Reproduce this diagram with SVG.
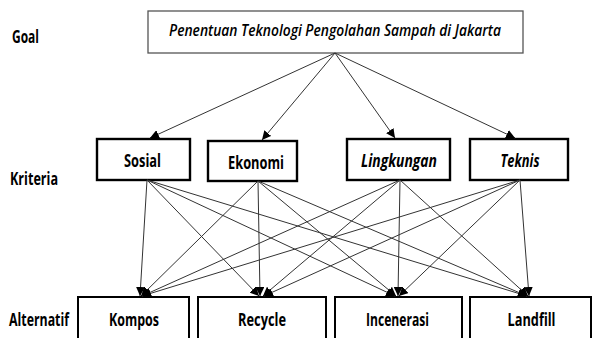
<svg xmlns="http://www.w3.org/2000/svg" width="592" height="338" viewBox="0 0 592 338">
<style>
  .lbl{font-family:"Open Sans","Liberation Sans",sans-serif;font-weight:700;font-size:17px;fill:#000}
  .ttl{font-family:"Open Sans","Liberation Sans",sans-serif;font-weight:600;font-style:italic;font-size:16.5px;fill:#000}
  .nt{font-family:"Open Sans","Liberation Sans",sans-serif;font-weight:700;font-size:17px;fill:#000;text-anchor:middle}
  .it{font-style:italic}
  .goalbox{fill:#fff;stroke:#555;stroke-width:1.3}
  .kbox{fill:#fff;stroke:#000;stroke-width:2.4}
  .abox{fill:#fff;stroke:#000;stroke-width:2}
  .con line{stroke:#333;stroke-width:1;marker-end:url(#ah)}
</style>
<defs>
  <marker id="ah" markerUnits="userSpaceOnUse" markerWidth="10" markerHeight="9" refX="9" refY="4.5" orient="auto">
    <path d="M0,0 L9,4.5 L0,9 Z" fill="#000"/>
  </marker>
</defs>
<rect width="592" height="338" fill="#fff"/>

<g id="level-labels">
  <text class="lbl" x="12" y="43" textLength="27" lengthAdjust="spacingAndGlyphs">Goal</text>
  <text class="lbl" x="10" y="185" textLength="48" lengthAdjust="spacingAndGlyphs">Kriteria</text>
  <text class="lbl" x="9" y="326" textLength="60" lengthAdjust="spacingAndGlyphs">Alternatif</text>
</g>

<g id="goal">
  <rect class="goalbox" x="148" y="11" width="375" height="42"/>
  <text class="ttl" x="169" y="36" textLength="332" lengthAdjust="spacingAndGlyphs">Penentuan Teknologi Pengolahan Sampah di Jakarta</text>
</g>

<g id="sosial">
  <rect class="kbox" x="97" y="139" width="93" height="41"/>
  <text class="nt" x="142.5" y="167" textLength="37" lengthAdjust="spacingAndGlyphs">Sosial</text>
</g>
<g id="ekonomi">
  <rect class="kbox" x="208" y="141" width="89" height="40"/>
  <text class="nt" x="256" y="169" textLength="56" lengthAdjust="spacingAndGlyphs">Ekonomi</text>
</g>
<g id="lingkungan">
  <rect class="kbox" x="347" y="139" width="103" height="41"/>
  <text class="nt it" x="399" y="167" textLength="76" lengthAdjust="spacingAndGlyphs">Lingkungan</text>
</g>
<g id="teknis">
  <rect class="kbox" x="470" y="139" width="98" height="41"/>
  <text class="nt it" x="520" y="167" textLength="39" lengthAdjust="spacingAndGlyphs">Teknis</text>
</g>

<g id="kompos">
  <rect class="abox" x="78" y="297" width="111" height="45"/>
  <text class="nt" x="134" y="326" textLength="50" lengthAdjust="spacingAndGlyphs">Kompos</text>
</g>
<g id="recycle">
  <rect class="abox" x="198" y="297" width="128" height="45"/>
  <text class="nt" x="262" y="326" textLength="48" lengthAdjust="spacingAndGlyphs">Recycle</text>
</g>
<g id="incenerasi">
  <rect class="abox" x="335" y="297" width="127" height="45"/>
  <text class="nt" x="397.5" y="326" textLength="63" lengthAdjust="spacingAndGlyphs">Incenerasi</text>
</g>
<g id="landfill">
  <rect class="abox" x="470" y="297" width="121" height="45"/>
  <text class="nt" x="531.5" y="326" textLength="48" lengthAdjust="spacingAndGlyphs">Landfill</text>
</g>

<g id="connectors" class="con">
  <line x1="335" y1="53" x2="150" y2="138"/>
  <line x1="335" y1="53" x2="262" y2="140"/>
  <line x1="335" y1="53" x2="395" y2="138"/>
  <line x1="335" y1="53" x2="515" y2="138"/>

  <line x1="147" y1="180" x2="140" y2="296"/>
  <line x1="147" y1="180" x2="259" y2="296"/>
  <line x1="147" y1="180" x2="395" y2="296"/>
  <line x1="147" y1="180" x2="527" y2="296"/>

  <line x1="258" y1="181" x2="141" y2="296"/>
  <line x1="258" y1="181" x2="260" y2="296"/>
  <line x1="258" y1="181" x2="396" y2="296"/>
  <line x1="258" y1="181" x2="527" y2="296"/>

  <line x1="400" y1="180" x2="142" y2="296"/>
  <line x1="400" y1="180" x2="263" y2="296"/>
  <line x1="400" y1="180" x2="398" y2="296"/>
  <line x1="400" y1="180" x2="528" y2="296"/>

  <line x1="520" y1="180" x2="142" y2="296"/>
  <line x1="520" y1="180" x2="264" y2="296"/>
  <line x1="520" y1="180" x2="399" y2="296"/>
  <line x1="520" y1="180" x2="529" y2="296"/>
</g>
</svg>
